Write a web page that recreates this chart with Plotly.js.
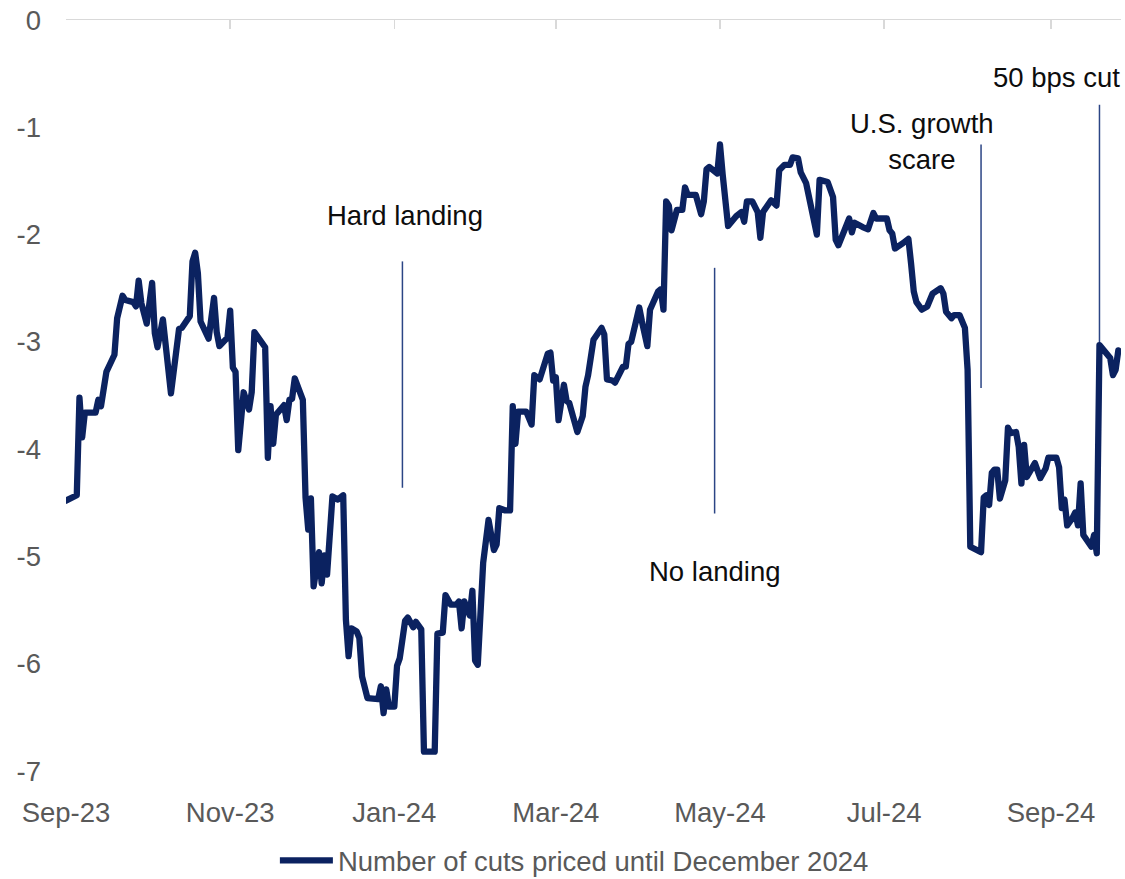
<!DOCTYPE html>
<html>
<head>
<meta charset="utf-8">
<script src="https://cdn.plot.ly/plotly-3.0.1.min.js"></script>
<style>
html,body{margin:0;padding:0;background:#fff}
#chart{width:1125px;height:879px}
.scatterlayer .js-line{stroke-linejoin:round!important;stroke-linecap:round!important}
</style>
</head>
<body>
<div id="chart"></div>
<script>
// ---------- data ----------
const dates = [
'2023-09-01','2023-09-05','2023-09-06','2023-09-07','2023-09-08','2023-09-12','2023-09-13','2023-09-14','2023-09-16','2023-09-19',
'2023-09-20','2023-09-22','2023-09-23','2023-09-26','2023-09-27','2023-09-28','2023-09-29','2023-10-01','2023-10-03','2023-10-04',
'2023-10-05','2023-10-07','2023-10-10','2023-10-11','2023-10-13','2023-10-14','2023-10-17','2023-10-18','2023-10-19','2023-10-20',
'2023-10-21','2023-10-24','2023-10-26','2023-10-27','2023-10-28','2023-10-31','2023-11-01','2023-11-02','2023-11-03','2023-11-04',
'2023-11-06','2023-11-08','2023-11-09','2023-11-10','2023-11-12','2023-11-14','2023-11-15','2023-11-16','2023-11-17','2023-11-18',
'2023-11-21','2023-11-22','2023-11-23','2023-11-24','2023-11-25','2023-11-28','2023-11-29','2023-11-30','2023-12-01','2023-12-02',
'2023-12-04','2023-12-05','2023-12-06','2023-12-07','2023-12-09','2023-12-11','2023-12-13','2023-12-14','2023-12-15','2023-12-16',
'2023-12-18','2023-12-19','2023-12-20','2023-12-22','2023-12-26','2023-12-27','2023-12-28','2023-12-29','2023-12-30','2024-01-01',
'2024-01-02','2024-01-03','2024-01-05','2024-01-06','2024-01-08','2024-01-09','2024-01-11','2024-01-12','2024-01-16','2024-01-17',
'2024-01-19','2024-01-20','2024-01-22','2024-01-24','2024-01-25','2024-01-26','2024-01-27','2024-01-29','2024-01-30','2024-01-31',
'2024-02-01','2024-02-03','2024-02-05','2024-02-07','2024-02-08','2024-02-09','2024-02-11','2024-02-13','2024-02-14','2024-02-15',
'2024-02-16','2024-02-19','2024-02-21','2024-02-22','2024-02-24','2024-02-27','2024-02-28','2024-02-29','2024-03-01','2024-03-02',
'2024-03-04','2024-03-05','2024-03-06','2024-03-09','2024-03-11','2024-03-12','2024-03-13','2024-03-14','2024-03-15','2024-03-18',
'2024-03-19','2024-03-20','2024-03-22','2024-03-23','2024-03-26','2024-03-27','2024-03-28','2024-03-29','2024-04-01','2024-04-02',
'2024-04-04','2024-04-05','2024-04-08','2024-04-09','2024-04-10','2024-04-11','2024-04-12','2024-04-13','2024-04-15','2024-04-17',
'2024-04-18','2024-04-19','2024-04-22','2024-04-24','2024-04-25','2024-04-26','2024-04-27','2024-04-30','2024-05-01','2024-05-02',
'2024-05-04','2024-05-07','2024-05-09','2024-05-10','2024-05-11','2024-05-13','2024-05-15','2024-05-16','2024-05-17','2024-05-20',
'2024-05-22','2024-05-23','2024-05-25','2024-05-27','2024-05-28','2024-05-30','2024-05-31','2024-06-02','2024-06-03','2024-06-05',
'2024-06-06','2024-06-07','2024-06-10','2024-06-12','2024-06-13','2024-06-14','2024-06-16','2024-06-18','2024-06-19','2024-06-20',
'2024-06-23','2024-06-25','2024-06-27','2024-06-28','2024-07-02','2024-07-03','2024-07-04','2024-07-05','2024-07-08','2024-07-10',
'2024-07-11','2024-07-12','2024-07-13','2024-07-15','2024-07-17','2024-07-19','2024-07-22','2024-07-23','2024-07-24','2024-07-26',
'2024-07-27','2024-07-29','2024-07-31','2024-08-01','2024-08-02','2024-08-06','2024-08-07','2024-08-08','2024-08-09','2024-08-10',
'2024-08-11','2024-08-12','2024-08-13','2024-08-15','2024-08-16','2024-08-17','2024-08-19','2024-08-20','2024-08-21','2024-08-22',
'2024-08-23','2024-08-24','2024-08-26','2024-08-28','2024-08-30','2024-08-31','2024-09-03','2024-09-04','2024-09-05','2024-09-06',
'2024-09-07','2024-09-09','2024-09-10','2024-09-11','2024-09-12','2024-09-13','2024-09-16','2024-09-17','2024-09-18','2024-09-19',
'2024-09-21','2024-09-23','2024-09-24','2024-09-25','2024-09-26'
];
const cutsPriced = [
-4.48,-4.43,-3.52,-3.89,-3.66,-3.66,-3.54,-3.60,-3.28,-3.12,
-2.78,-2.57,-2.61,-2.63,-2.67,-2.43,-2.64,-2.83,-2.45,-2.92,
-3.05,-2.79,-3.48,-3.29,-2.88,-2.87,-2.76,-2.25,-2.17,-2.36,
-2.81,-2.97,-2.59,-2.91,-3.04,-2.96,-2.71,-3.24,-3.28,-4.01,
-3.47,-3.63,-3.47,-2.91,-2.97,-3.05,-4.08,-3.60,-3.95,-3.68,
-3.59,-3.73,-3.54,-3.53,-3.34,-3.54,-4.45,-4.75,-4.46,-5.28,
-4.96,-5.25,-4.99,-5.17,-4.44,-4.47,-4.43,-5.59,-5.93,-5.67,
-5.70,-5.76,-6.12,-6.32,-6.33,-6.21,-6.46,-6.24,-6.40,-6.40,
-6.02,-5.95,-5.60,-5.57,-5.66,-5.61,-5.68,-6.82,-6.82,-5.72,
-5.71,-5.36,-5.45,-5.45,-5.42,-5.67,-5.42,-5.55,-5.32,-5.97,
-6.01,-5.06,-4.66,-4.94,-4.89,-4.55,-4.57,-4.57,-3.60,-3.95,
-3.65,-3.65,-3.77,-3.31,-3.35,-3.11,-3.10,-3.36,-3.33,-3.73,
-3.40,-3.55,-3.57,-3.84,-3.69,-3.42,-3.31,-3.08,-2.98,-2.87,
-2.93,-3.35,-3.36,-3.38,-3.23,-3.23,-3.02,-3.00,-2.68,-2.81,
-3.04,-2.70,-2.53,-2.51,-2.70,-1.69,-1.73,-1.96,-1.77,-1.77,
-1.56,-1.63,-1.63,-1.81,-1.69,-1.39,-1.37,-1.43,-1.16,-1.44,
-1.92,-1.83,-1.79,-1.88,-1.69,-1.69,-1.79,-2.03,-1.79,-1.68,
-1.73,-1.40,-1.35,-1.35,-1.28,-1.29,-1.42,-1.52,-1.65,-1.94,
-2.00,-1.49,-1.51,-1.65,-2.05,-2.10,-1.98,-1.85,-1.98,-1.89,
-1.93,-1.95,-1.80,-1.85,-1.85,-1.96,-1.99,-2.13,-2.08,-2.04,
-2.27,-2.53,-2.63,-2.70,-2.67,-2.55,-2.50,-2.55,-2.72,-2.78,
-2.75,-2.75,-2.87,-3.26,-4.91,-4.96,-4.45,-4.43,-4.52,-4.22,
-4.19,-4.19,-4.46,-4.29,-3.80,-3.85,-3.84,-3.98,-4.32,-3.96,
-4.26,-4.21,-4.13,-4.27,-4.18,-4.08,-4.08,-4.17,-4.55,-4.47,
-4.71,-4.64,-4.59,-4.71,-4.32,-4.80,-4.91,-4.80,-4.97,-3.03,
-3.10,-3.15,-3.31,-3.26,-3.08
];
const seriesName = 'Number of cuts priced until December 2024';

const tickDates = ['2023-09-01','2023-11-01','2024-01-01','2024-03-01','2024-05-01','2024-07-01','2024-09-01'];
const tickLabels = ['Sep-23','Nov-23','Jan-24','Mar-24','May-24','Jul-24','Sep-24'];
const yTicks = [0,-1,-2,-3,-4,-5,-6,-7];
const yTickLabels = ['0','-1','-2','-3','-4','-5','-6','-7'];

// event markers (date of the event, vertical extent of the marker line)
const eventLabels = ['Hard landing','No landing','U.S. growth<br>scare','50 bps cut'];
const eventDates = ['2024-01-04','2024-04-29','2024-08-06','2024-09-19'];
const eventLineTop = [-2.25,-2.31,-1.16,-0.79];
const eventLineBottom = [-4.36,-4.60,-3.43,-3.03];

// ---------- presentation ----------
const labelPos = [
  {x:'2024-01-05', y:-1.82},
  {x:'2024-04-29', y:-5.14},
  {x:'2024-07-15', y:-1.13},
  {x:'2024-09-03', y:-0.54}
];
const FONT = '"Liberation Sans", Arial, sans-serif';
const FS = 27.5;
const GRAY = '#595959';
const NAVY = '#0B2260';
const AXIS = '#D9D9D9';

const trace = {
  type:'scatter', mode:'lines', x:dates, y:cutsPriced, name:seriesName,
  line:{color:NAVY, width:6.3}, cliponaxis:false, hoverinfo:'skip'
};
// invisible companion trace so the top (zero-line) axis is drawn
const axisTrace = {
  type:'scatter', mode:'lines', x:dates, y:cutsPriced, xaxis:'x2', yaxis:'y',
  line:{width:0, color:'rgba(0,0,0,0)'}, showlegend:false, hoverinfo:'skip'
};

const shapes = eventDates.map((d,i)=>({
  type:'line', xref:'x', yref:'y', x0:d, x1:d, y0:eventLineTop[i], y1:eventLineBottom[i],
  line:{color:'#2B4585', width:1.5}, layer:'below'
}));
const annotations = eventLabels.map((t,i)=>({
  xref:'x', yref:'y', x:labelPos[i].x, y:labelPos[i].y, text:t, showarrow:false,
  xanchor:'center', yanchor:'middle', align:'center',
  font:{family:FONT, size:FS, color:'#0D0D0D'}
}));

const layout = {
  width:1125, height:879,
  margin:{l:66, r:4, t:20, b:108},
  paper_bgcolor:'#ffffff', plot_bgcolor:'#ffffff',
  font:{family:FONT, size:FS, color:GRAY},
  showlegend:true,
  legend:{orientation:'h', x:0.198, xanchor:'left', yref:'container', y:0.021, yanchor:'middle',
          font:{family:FONT, size:FS, color:GRAY}, itemwidth:53, bgcolor:'rgba(0,0,0,0)'},
  xaxis:{type:'date', range:['2023-09-01','2024-09-27'], tickvals:tickDates, ticktext:tickLabels,
         showgrid:false, zeroline:false, showline:false, ticks:'', ticklabelstandoff:22,
         tickfont:{family:FONT, size:FS, color:GRAY}, fixedrange:true},
  xaxis2:{type:'date', overlaying:'x', matches:'x', side:'top', anchor:'y',
          tickvals:tickDates, ticks:'inside', ticklen:9, tickwidth:1.5, tickcolor:AXIS,
          showline:true, linecolor:AXIS, linewidth:1.5, showticklabels:false,
          showgrid:false, zeroline:false},
  yaxis:{range:[-7,0], tickvals:yTicks, ticktext:yTickLabels, showgrid:false, zeroline:false, showline:false,
         ticks:'', ticklabelstandoff:24, tickfont:{family:FONT, size:FS, color:GRAY}, fixedrange:true},
  shapes:shapes,
  annotations:annotations
};

Plotly.newPlot('chart', [axisTrace, trace], layout, {displayModeBar:false, staticPlot:true});
</script>
</body>
</html>
